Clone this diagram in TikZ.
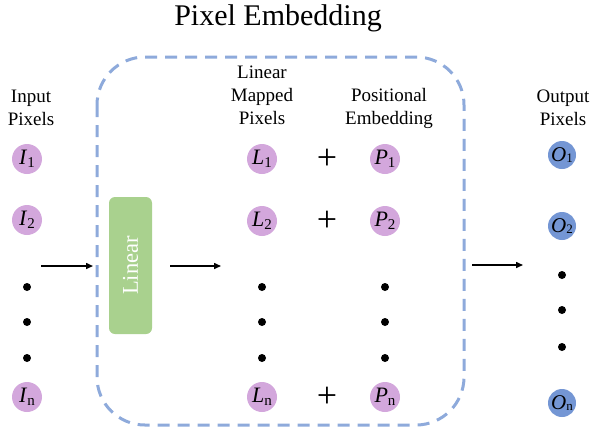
\documentclass[tikz,border=0pt]{standalone}
\usepackage{fontspec}
\setmainfont{Liberation Serif}
\usetikzlibrary{arrows.meta}
\definecolor{pinkc}{HTML}{D3A7DC}
\definecolor{bluec}{HTML}{7496D4}
\definecolor{greenc}{HTML}{A9D18E}
\definecolor{dashc}{HTML}{8EAADB}
\tikzset{
  pix/.style={circle, fill=pinkc, minimum size=30pt, inner sep=0pt, font=\fontsize{22}{22}\selectfont},
  opix/.style={circle, fill=bluec, minimum size=28pt, inner sep=0pt, font=\fontsize{21}{21}\selectfont},
  dotn/.style={circle, fill=black, minimum size=8pt, inner sep=0pt},
  lbl/.style={align=center, font=\fontsize{19}{23}\selectfont},
  plusn/.style={font=\fontsize{36}{36}\selectfont, inner sep=0pt},
  arr/.style={-{Triangle[length=7pt,width=6pt]}, line width=1.5pt},
}
\newcommand{\lab}[2]{\textit{#1}\raisebox{-0.35ex}{\fontsize{15}{15}\selectfont #2}}
\newcommand{\olab}[2]{\textit{#1}\raisebox{-0.1ex}{\fontsize{13}{13}\selectfont #2}}
\begin{document}
\begin{tikzpicture}[x=1pt,y=-1pt]
\useasboundingbox (0,0) rectangle (593,429);
% title
\node[font=\fontsize{30}{30}\selectfont] (title) at (278,18) {Pixel Embedding};
% dashed box
\draw[dashc, line width=3pt, dash pattern=on 12pt off 8pt, rounded corners=48pt] (97,57) rectangle (464,425);
% labels
\node[lbl] (inlbl) at (31,108) {Input\\Pixels};
\node[lbl] (lmlbl) at (262,95) {Linear\\Mapped\\Pixels};
\node[lbl] (pelbl) at (389,108) {Positional\\Embedding};
\node[lbl] (outlbl) at (563,108) {Output\\Pixels};
% input column
\node[pix] (I1) at (27,159) {\lab{I}{1}};
\node[pix] (I2) at (27,220) {\lab{I}{2}};
\node[dotn] (id1) at (27,287) {};
\node[dotn] (id2) at (27,322) {};
\node[dotn] (id3) at (27,358) {};
\node[pix] (In) at (27,397) {\lab{I}{n}};
% linear box
\node[draw=none, fill=greenc, rounded corners=6pt, minimum width=43pt, minimum height=137pt, inner sep=0pt] (lin) at (130.5,265.5) {};
\node[rotate=90, text=white, font=\fontsize{22.5}{22.5}\selectfont] (lintxt) at (lin.center) {Linear};
% L column
\node[pix] (L1) at (262,159) {\lab{L}{1}};
\node[pix] (L2) at (262,221) {\lab{L}{2}};
\node[dotn] (ld1) at (262,287) {};
\node[dotn] (ld2) at (262,322) {};
\node[dotn] (ld3) at (262,358) {};
\node[pix] (Ln) at (262,397) {\lab{L}{n}};
% plus
\node[plusn] (p1) at (327,159) {+};
\node[plusn] (p2) at (327,221) {+};
\node[plusn] (pn) at (327,397) {+};
% P column
\node[pix] (P1) at (385,159) {\lab{P}{1}};
\node[pix] (P2) at (385,221) {\lab{P}{2}};
\node[dotn] (pd1) at (385,287) {};
\node[dotn] (pd2) at (385,322) {};
\node[dotn] (pd3) at (385,358) {};
\node[pix] (Pn) at (385,397) {\lab{P}{n}};
% output column
\node[opix] (O1) at (562,155) {\olab{O}{1}};
\node[opix] (O2) at (562,226) {\olab{O}{2}};
\node[dotn] (od1) at (562,275) {};
\node[dotn] (od2) at (562,310) {};
\node[dotn] (od3) at (562,347) {};
\node[opix] (On) at (562,403) {\olab{O}{n}};
% arrows
\coordinate (a1s) at (41,266);
\coordinate (a1e) at (93,266);
\coordinate (a2s) at (170,266);
\coordinate (a2e) at (221,266);
\coordinate (a3s) at (472,265);
\coordinate (a3e) at (523,265);
\draw[arr] (a1s) -- (a1e);
\draw[arr] (a2s) -- (a2e);
\draw[arr] (a3s) -- (a3e);
\end{tikzpicture}
\end{document}
